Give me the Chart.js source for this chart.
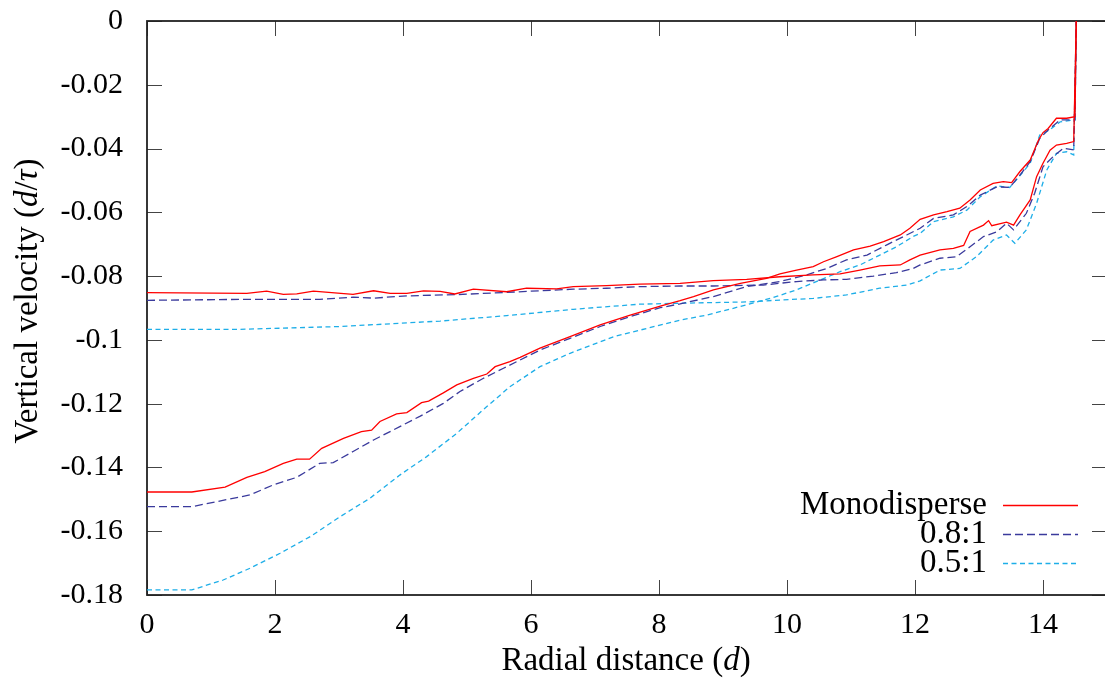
<!DOCTYPE html>
<html>
<head>
<meta charset="utf-8">
<script src="https://cdn.jsdelivr.net/npm/chart.js@4.4.0/dist/chart.umd.min.js"></script>
<style>
  html, body { margin: 0; padding: 0; background: #fff; overflow: hidden; }
  #wrap { width: 1108px; height: 688px; }
</style>
</head>
<body>
<div id="wrap"><canvas id="velChart" width="1108" height="688"></canvas></div>
<script>
// tick values and labels
const xTickValues = [0, 2, 4, 6, 8, 10, 12, 14];
const xTickLabels = ["0", "2", "4", "6", "8", "10", "12", "14"];
const yTickValues = [0, -0.02, -0.04, -0.06, -0.08, -0.1, -0.12, -0.14, -0.16, -0.18];
const yTickLabels = ["0", "-0.02", "-0.04", "-0.06", "-0.08", "-0.1", "-0.12", "-0.14", "-0.16", "-0.18"];

const seriesNames = ["Monodisperse", "0.8:1", "0.5:1"];

// Monodisperse, curve starting near -0.085
const monoAx = [0, 1.56, 1.87, 2.13, 2.34, 2.60, 3.22, 3.54, 3.80, 4.06, 4.32, 4.58, 4.81, 5.10, 5.62, 5.93, 6.40, 6.66, 7.18, 7.70, 8.33, 8.85, 9.37, 9.89, 10.41, 10.83, 11.14, 11.45, 11.77, 11.92, 12.08, 12.39, 12.60, 12.76, 12.86, 13.07, 13.15, 13.20, 13.43, 13.54, 13.64, 13.80, 13.90, 14.00, 14.11, 14.21, 14.37, 14.48, 14.52];
const monoAy = [-0.0852, -0.0854, -0.0847, -0.0857, -0.0856, -0.0847, -0.0857, -0.0846, -0.0854, -0.0854, -0.0846, -0.0848, -0.0856, -0.0841, -0.0849, -0.0838, -0.0840, -0.0833, -0.0830, -0.0825, -0.0823, -0.0814, -0.0810, -0.0802, -0.0796, -0.0793, -0.0781, -0.0768, -0.0765, -0.0749, -0.0734, -0.0718, -0.0713, -0.0704, -0.0660, -0.0640, -0.0626, -0.0642, -0.0631, -0.0640, -0.0608, -0.0561, -0.0488, -0.0446, -0.0405, -0.0389, -0.0384, -0.0378, 0];
// Monodisperse, curve starting near -0.148
const monoBx = [0, 0.70, 1.22, 1.56, 1.84, 2.13, 2.34, 2.54, 2.73, 3.07, 3.35, 3.51, 3.64, 3.90, 4.06, 4.29, 4.40, 4.63, 4.84, 5.10, 5.31, 5.44, 5.67, 5.83, 6.14, 6.61, 7.08, 7.55, 8.02, 8.33, 8.54, 8.85, 9.27, 9.68, 9.89, 10.15, 10.41, 10.57, 10.78, 11.04, 11.30, 11.51, 11.77, 11.92, 12.08, 12.29, 12.50, 12.70, 12.86, 13.02, 13.22, 13.38, 13.51, 13.64, 13.80, 13.93, 14.00, 14.08, 14.21, 14.37, 14.50, 14.52];
const monoBy = [-0.1477, -0.1477, -0.1462, -0.1431, -0.1413, -0.1387, -0.1374, -0.1374, -0.1340, -0.1309, -0.1288, -0.1283, -0.1256, -0.1232, -0.1228, -0.1197, -0.1192, -0.1166, -0.1141, -0.1121, -0.1107, -0.1084, -0.1068, -0.1055, -0.1026, -0.0990, -0.0953, -0.0922, -0.0894, -0.0877, -0.0864, -0.0843, -0.0823, -0.0807, -0.0793, -0.0781, -0.0770, -0.0755, -0.0739, -0.0718, -0.0706, -0.0692, -0.0671, -0.0650, -0.0622, -0.0608, -0.0598, -0.0587, -0.0561, -0.0530, -0.0509, -0.0504, -0.0507, -0.0472, -0.0436, -0.0373, -0.0350, -0.0337, -0.0305, -0.0305, -0.0300, 0];

// 0.8:1
const r08Ax = [0, 1.45, 2.70, 3.22, 3.54, 4.06, 4.84, 5.62, 6.14, 6.66, 7.18, 7.70, 8.33, 8.85, 9.63, 10.15, 10.57, 10.93, 11.35, 11.71, 11.97, 12.08, 12.39, 12.65, 12.86, 13.07, 13.28, 13.43, 13.54, 13.74, 13.87, 14.00, 14.16, 14.32, 14.48, 14.52];
const r08Ay = [-0.0876, -0.0873, -0.0873, -0.0866, -0.0869, -0.0862, -0.0858, -0.0851, -0.0846, -0.0841, -0.0838, -0.0833, -0.0831, -0.0831, -0.0828, -0.0817, -0.0812, -0.0810, -0.0800, -0.0789, -0.0776, -0.0765, -0.0744, -0.0739, -0.0708, -0.0676, -0.0661, -0.0634, -0.0655, -0.0603, -0.0540, -0.0457, -0.0425, -0.0399, -0.0404, 0];
const r08Bx = [0, 0.70, 1.22, 1.61, 1.97, 2.34, 2.70, 2.91, 3.22, 3.54, 3.95, 4.27, 4.63, 4.89, 5.25, 5.57, 5.83, 6.14, 6.61, 7.08, 7.55, 8.02, 8.33, 8.85, 9.37, 9.89, 10.31, 10.62, 10.93, 11.25, 11.56, 11.87, 12.08, 12.29, 12.60, 12.81, 13.02, 13.28, 13.48, 13.64, 13.80, 13.95, 14.08, 14.27, 14.50, 14.52];
const r08By = [-0.1523, -0.1523, -0.1502, -0.1486, -0.1455, -0.1431, -0.1387, -0.1385, -0.1350, -0.1314, -0.1272, -0.1239, -0.1199, -0.1162, -0.1121, -0.1089, -0.1063, -0.1032, -0.0995, -0.0958, -0.0927, -0.0899, -0.0887, -0.0864, -0.0833, -0.0817, -0.0796, -0.0776, -0.0749, -0.0734, -0.0702, -0.0671, -0.0650, -0.0619, -0.0608, -0.0582, -0.0546, -0.0520, -0.0522, -0.0483, -0.0441, -0.0368, -0.0342, -0.0310, -0.0310, 0];

// 0.5:1
const r05Ax = [0, 1.45, 3.02, 4.58, 5.62, 6.66, 7.70, 8.33, 8.85, 9.37, 9.89, 10.41, 10.93, 11.45, 11.87, 12.08, 12.39, 12.70, 12.96, 13.22, 13.43, 13.56, 13.74, 13.90, 14.06, 14.21, 14.37, 14.48, 14.52];
const r05Ay = [-0.0967, -0.0967, -0.0958, -0.0941, -0.0924, -0.0904, -0.0888, -0.0885, -0.0883, -0.0881, -0.0875, -0.0870, -0.0859, -0.0838, -0.0828, -0.0815, -0.0781, -0.0776, -0.0739, -0.0687, -0.0671, -0.0697, -0.0655, -0.0572, -0.0467, -0.0415, -0.0410, -0.0420, 0];
const r05Bx = [0, 0.70, 1.19, 1.61, 2.08, 2.55, 3.02, 3.48, 3.95, 4.37, 4.84, 5.31, 5.67, 6.14, 6.61, 7.29, 7.81, 8.33, 8.75, 9.16, 9.79, 10.15, 10.52, 10.83, 11.14, 11.45, 11.71, 11.97, 12.08, 12.29, 12.60, 12.81, 13.02, 13.28, 13.48, 13.64, 13.80, 13.95, 14.10, 14.27, 14.50, 14.52];
const r05By = [-0.1784, -0.1784, -0.1753, -0.1716, -0.1669, -0.1617, -0.1554, -0.1497, -0.1424, -0.1366, -0.1293, -0.1209, -0.1147, -0.1084, -0.1042, -0.0990, -0.0964, -0.0938, -0.0922, -0.0901, -0.0867, -0.0843, -0.0812, -0.0786, -0.0765, -0.0734, -0.0708, -0.0676, -0.0666, -0.0629, -0.0614, -0.0593, -0.0551, -0.0517, -0.0522, -0.0485, -0.0446, -0.0357, -0.0342, -0.0316, -0.0310, 0];

const FONT = "'Liberation Serif', 'DejaVu Serif', serif";
const TICK_SIZE = 30;
const TEXT_SIZE = 33;

const styles = [
    { color: "#ff0000", dash: [] },
    { color: "#3a3a9c", dash: [8, 4] },
    { color: "#1eaee8", dash: [5, 3.5] }
];

function pts(xs, ys) {
    return xs.map((x, i) => ({ x: x, y: ys[i] }));
}

function makeSet(series, xs, ys) {
    return {
        label: seriesNames[series],
        data: pts(xs, ys),
        borderColor: styles[series].color,
        borderDash: styles[series].dash,
        borderWidth: 1.3,
        pointRadius: 0,
        showLine: true,
        fill: false,
        tension: 0
    };
}

// frame with inward ticks on all four sides (gnuplot style)
const framePlugin = {
    id: "frame",
    beforeDatasetsDraw(chart) {
        const { ctx, chartArea: a, scales } = chart;
        ctx.save();
        ctx.strokeStyle = "#444";
        ctx.lineWidth = 1;
        const tl = 15;
        xTickValues.forEach(v => {
            const px = Math.round(scales.x.getPixelForValue(v)) + 0.5;
            ctx.beginPath();
            ctx.moveTo(px, a.bottom); ctx.lineTo(px, a.bottom - tl);
            ctx.moveTo(px, a.top); ctx.lineTo(px, a.top + tl);
            ctx.stroke();
        });
        yTickValues.forEach(v => {
            const py = Math.round(scales.y.getPixelForValue(v)) + 0.5;
            ctx.beginPath();
            ctx.moveTo(a.left, py); ctx.lineTo(a.left + tl, py);
            ctx.moveTo(a.right, py); ctx.lineTo(a.right - tl, py);
            ctx.stroke();
        });
        ctx.strokeStyle = "#222";
        ctx.lineWidth = 1.8;
        ctx.strokeRect(a.left, a.top, a.right - a.left, a.bottom - a.top);
        ctx.restore();
    }
};

function drawParts(ctx, parts, x, y) {
    // parts: [text, italic]; centred on x
    const norm = TEXT_SIZE + "px " + FONT;
    const ital = "italic " + TEXT_SIZE + "px " + FONT;
    let total = 0;
    parts.forEach(p => { ctx.font = p[1] ? ital : norm; total += ctx.measureText(p[0]).width; });
    let cx = x - total / 2;
    parts.forEach(p => {
        ctx.font = p[1] ? ital : norm;
        ctx.fillText(p[0], cx, y);
        cx += ctx.measureText(p[0]).width;
    });
}

const labelsPlugin = {
    id: "labels",
    afterDraw(chart) {
        const { ctx } = chart;
        ctx.save();
        ctx.fillStyle = "#000";
        ctx.textBaseline = "middle";
        ctx.textAlign = "left";
        drawParts(ctx, [["Radial distance (", false], ["d", true], [")", false]], 626, 661);
        ctx.save();
        ctx.translate(28, 301);
        ctx.rotate(-Math.PI / 2);
        drawParts(ctx, [["Vertical velocity (", false], ["d", true], ["/", false], ["\u03c4", true], [")", false]], 0, 0);
        ctx.restore();

        // key, bottom right, samples to the right of the text
        const rows = [505, 534, 563];
        seriesNames.forEach((name, i) => {
            ctx.font = TEXT_SIZE + "px " + FONT;
            ctx.textAlign = "right";
            ctx.fillText(name, 987, rows[i]);
            ctx.beginPath();
            ctx.strokeStyle = styles[i].color;
            ctx.lineWidth = 1.3;
            ctx.setLineDash(styles[i].dash);
            ctx.moveTo(1003, rows[i] + 0.5);
            ctx.lineTo(1078, rows[i] + 0.5);
            ctx.stroke();
            ctx.setLineDash([]);
        });
        ctx.restore();
    }
};

const chart = new Chart(document.getElementById("velChart").getContext("2d"), {
    type: "scatter",
    data: {
        datasets: [
            makeSet(0, monoAx, monoAy),
            makeSet(0, monoBx, monoBy),
            makeSet(1, r08Ax, r08Ay),
            makeSet(1, r08Bx, r08By),
            makeSet(2, r05Ax, r05Ay),
            makeSet(2, r05Bx, r05By)
        ]
    },
    options: {
        responsive: false,
        animation: false,
        devicePixelRatio: 1,
        layout: { padding: { left: 0, top: 21, right: 1, bottom: 0 } },
        plugins: {
            legend: { display: false },
            tooltip: { enabled: false }
        },
        scales: {
            x: {
                type: "linear",
                min: 0,
                max: 15,
                grid: { display: false },
                border: { display: false },
                afterBuildTicks: s => { s.ticks = xTickValues.map(v => ({ value: v })); },
                afterFit: s => { s.height = 93; s.paddingLeft = 0; s.paddingRight = 0; },
                ticks: {
                    color: "#000",
                    padding: 4,
                    maxRotation: 0,
                    font: { family: FONT, size: TICK_SIZE },
                    callback: (v, i) => xTickLabels[i]
                }
            },
            y: {
                type: "linear",
                min: -0.18,
                max: 0,
                grid: { display: false },
                border: { display: false },
                afterBuildTicks: s => { s.ticks = yTickValues.map(v => ({ value: v })); },
                afterFit: s => { s.width = 147; s.paddingTop = 0; s.paddingBottom = 0; },
                ticks: {
                    color: "#000",
                    padding: 16,
                    font: { family: FONT, size: TICK_SIZE },
                    callback: (v, i) => yTickLabels[i]
                }
            }
        }
    },
    plugins: [framePlugin, labelsPlugin]
});
</script>
</body>
</html>
